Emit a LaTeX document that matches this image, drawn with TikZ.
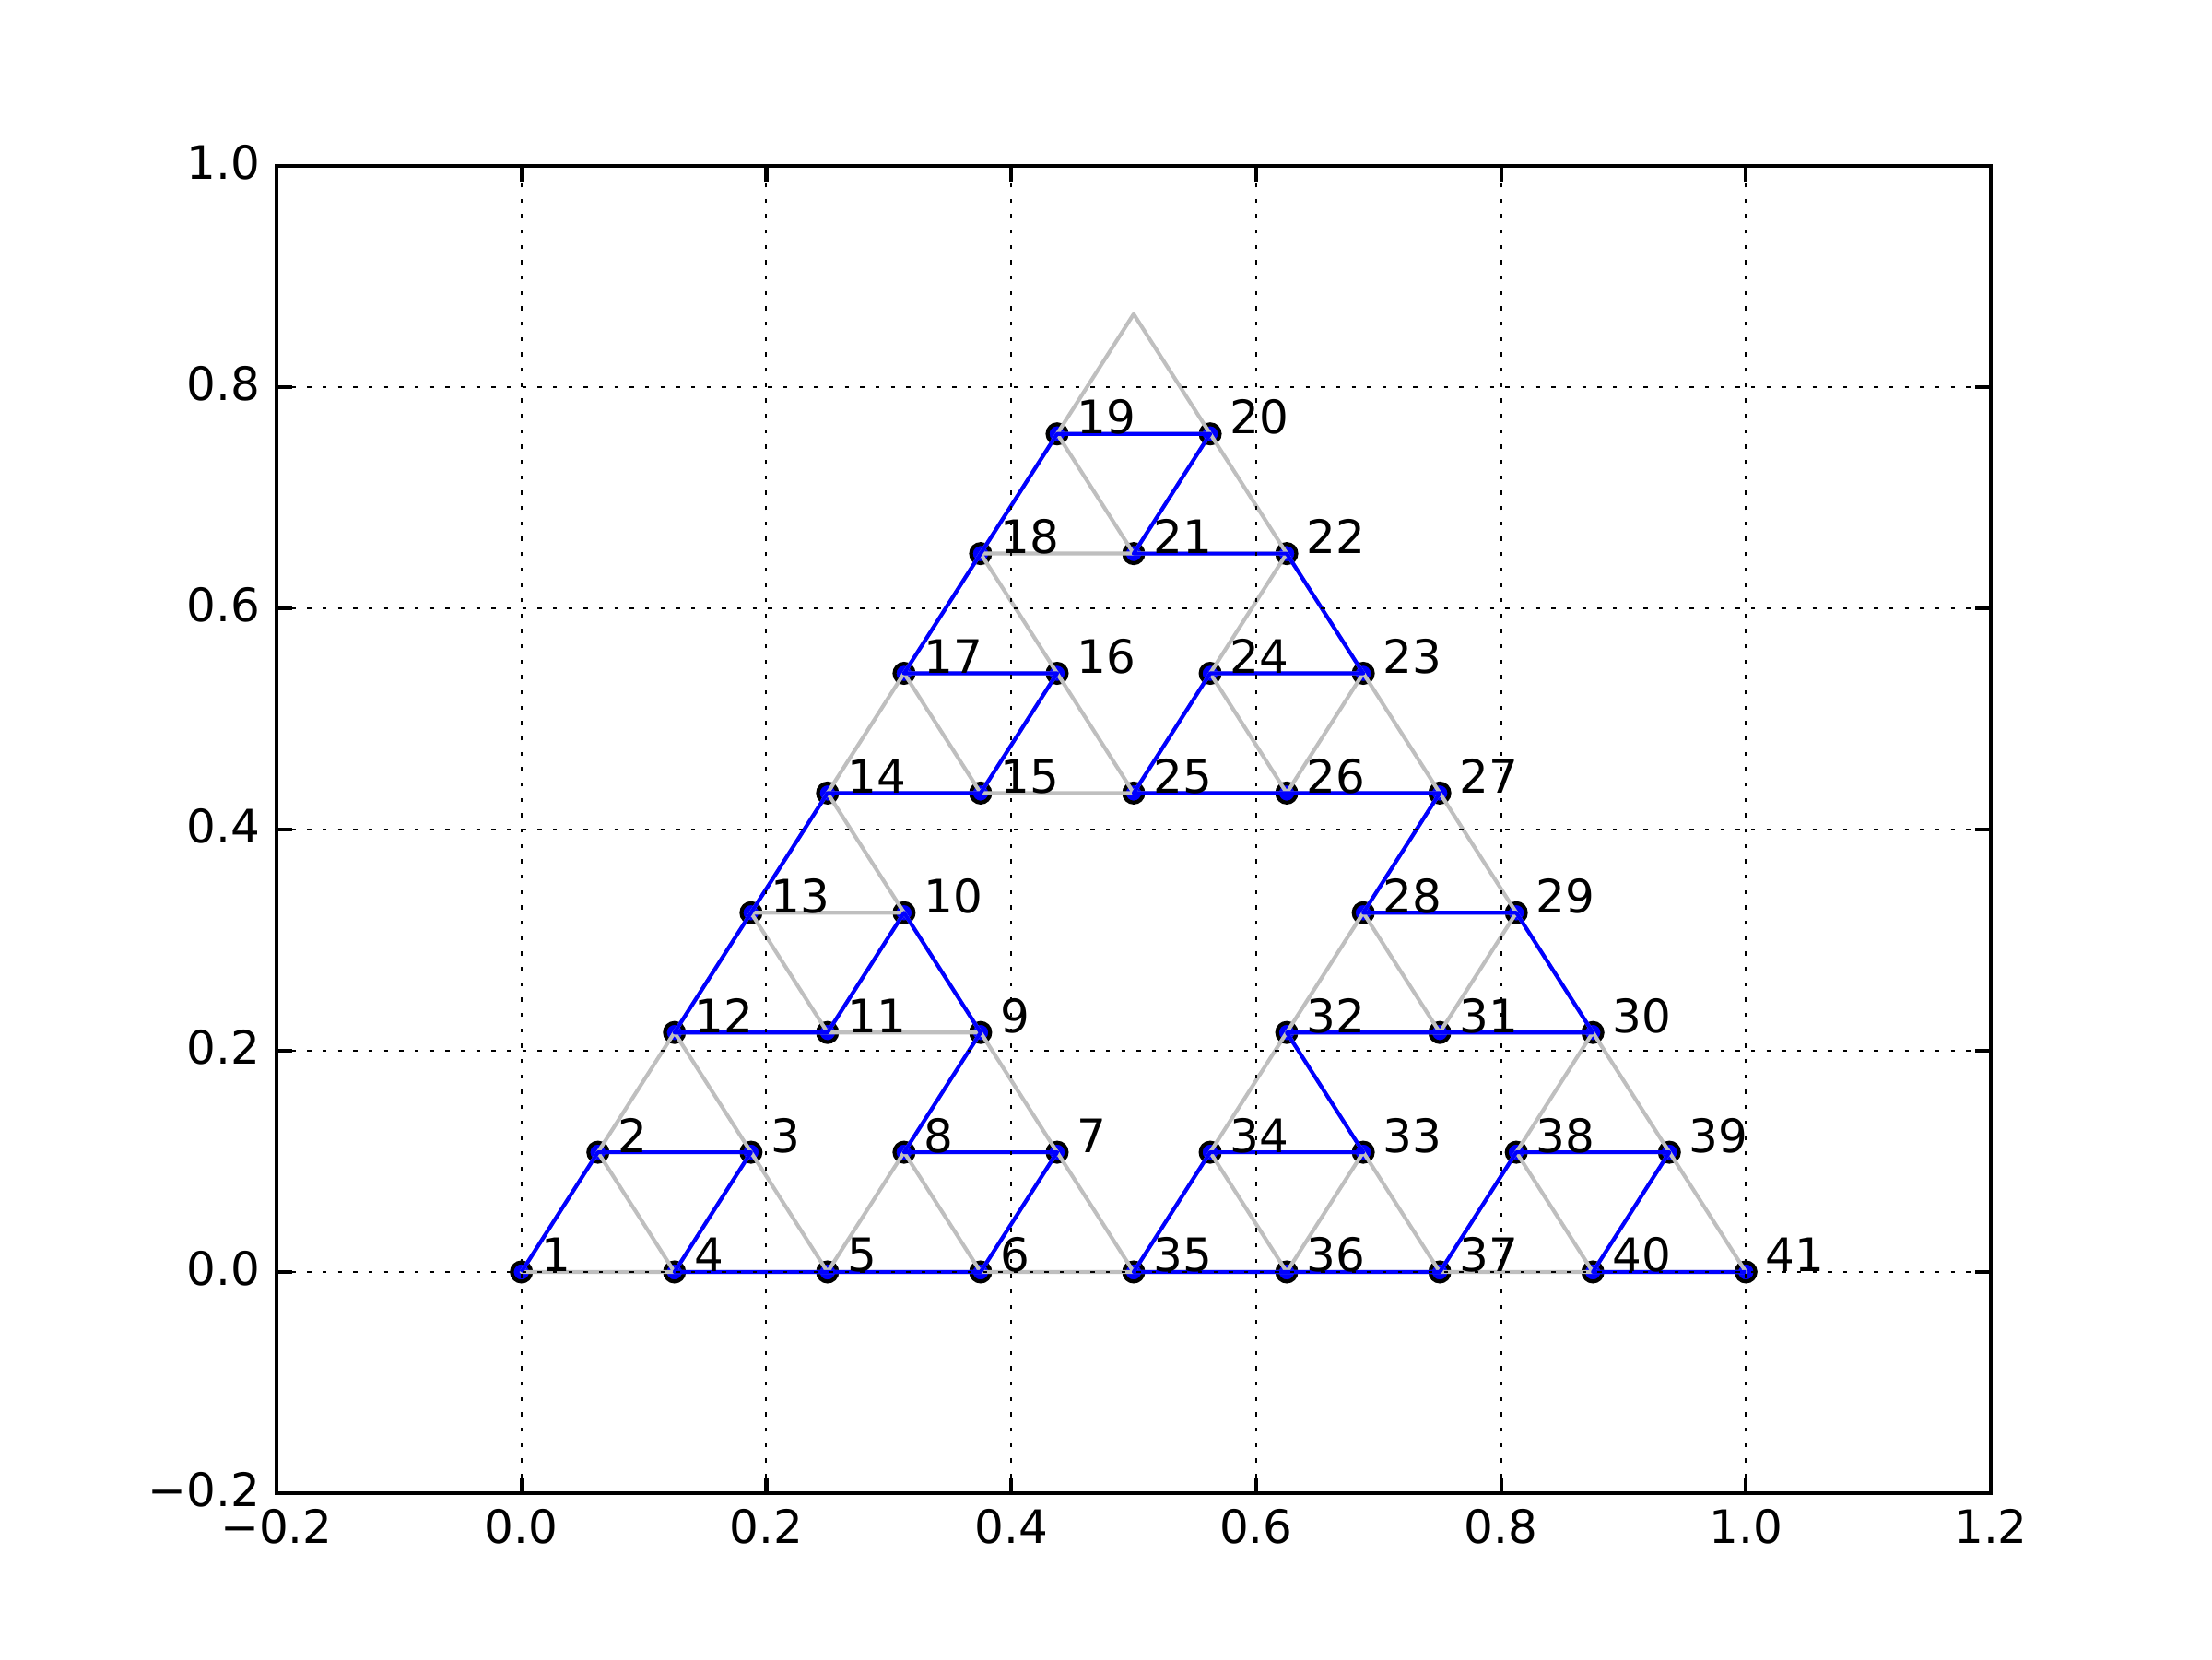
\documentclass[tikz,border=0pt]{standalone}
\usepackage{fontspec}
\setmainfont{DejaVu Sans}
\usetikzlibrary{positioning}
\definecolor{cBlue}{HTML}{0000FF}
\definecolor{cGrey}{HTML}{BFBFBF}

\begin{document}
\begin{tikzpicture}[x=4.428571in,y=4in,font=\fontsize{12bp}{14bp}\selectfont,
  walk/.style={cBlue,line width=1bp,line join=round},
  tri/.style={cGrey,line width=1bp,line join=round},
  gridline/.style={line width=.5bp,dash pattern=on 1bp off 3bp},
  vtx/.style={circle,draw=black,fill=cBlue,line width=1bp,minimum size=5bp,inner sep=0pt},
  lbl/.style={anchor=base west,inner sep=0pt,xshift=5bp},
  tickmark/.style={line width=1bp}]
\path[use as bounding box] (-.425806,-.35) rectangle (1.380645,1.15);
\foreach \n/\i/\j in {1/0/0,2/1/1,3/3/1,4/2/0,5/4/0,6/6/0,7/7/1,8/5/1,9/6/2,10/5/3,
  11/4/2,12/2/2,13/3/3,14/4/4,15/6/4,16/7/5,17/5/5,18/6/6,19/7/7,20/9/7,
  21/8/6,22/10/6,23/11/5,24/9/5,25/8/4,26/10/4,27/12/4,28/11/3,29/13/3,30/14/2,
  31/12/2,32/10/2,33/11/1,34/9/1,35/8/0,36/10/0,37/12/0,38/13/1,39/15/1,40/14/0,41/16/0}{
  \coordinate (p\n) at (\i/16,\j*0.10825318);
}
\foreach \n in {1,...,41}{
  \node[vtx] (v\n) at (p\n) {};
}
\foreach \ax/\ay in {0/0,.5/0,.25/.4330127}{
  \foreach \bx/\by in {0/0,.25/0,.125/.21650635}{
    \foreach \cx/\cy in {0/0,.125/0,.0625/.10825318}{
      \draw[tri] (\ax+\bx+\cx,\ay+\by+\cy) -- ++(.125,0) -- ++(-.0625,.10825318) -- cycle;
    }
  }
}
\draw[walk] (p1) \foreach \n in {2,...,41}{ -- (p\n)};
\foreach \x in {0,.2,.4,.6,.8,1}{
  \draw[gridline] (\x,-.2) -- (\x,1);
}
\foreach \y in {0,.2,.4,.6,.8}{
  \draw[gridline] (-.2,\y) -- (1.2,\y);
}
\foreach \x/\t [count=\k] in {-.2/{−0.2},0/0.0,.2/0.2,.4/0.4,.6/0.6,.8/0.8,1/1.0,1.2/1.2}{
  \draw[tickmark] (\x,-.2) -- ++(0pt,4bp);
  \draw[tickmark] (\x,1) -- ++(0pt,-4bp);
  \node[anchor=base,inner sep=0pt] (xl\k) at (\x,-.24583) {\t};
}
\foreach \y/\t [count=\k] in {-.2/{−0.2},0/0.0,.2/0.2,.4/0.4,.6/0.6,.8/0.8,1/1.0}{
  \draw[tickmark] (-.2,\y) -- ++(4bp,0pt);
  \draw[tickmark] (1.2,\y) -- ++(-4bp,0pt);
  \node[anchor=base east,inner sep=0pt] (yl\k) at (-.2128,\y-.0125) {\t};
}
\draw[line width=1bp] (-.2,-.2) rectangle (1.2,1);
\foreach \n in {1,...,41}{
  \node[lbl] (l\n) at (p\n) {\n};
}
\end{tikzpicture}
\end{document}
